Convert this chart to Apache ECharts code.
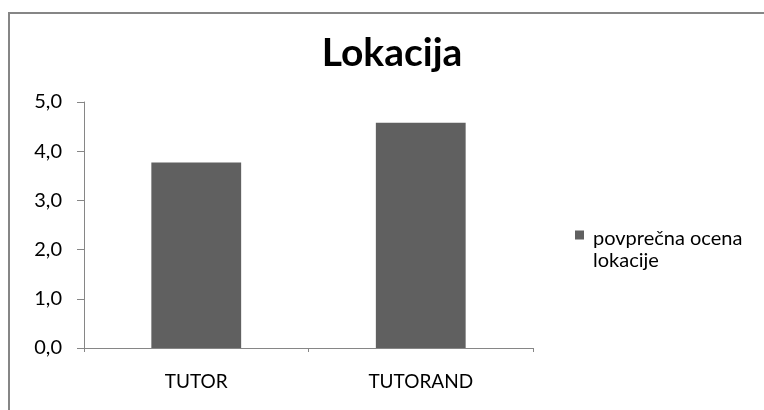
<!DOCTYPE html>
<html>
<head>
<meta charset="utf-8">
<script src="https://cdn.jsdelivr.net/npm/echarts@6/dist/echarts.min.js"></script>
<style>html,body{margin:0;padding:0;background:#fff;}#c{width:764px;height:410px;}</style>
</head>
<body>
<div id="c"></div>
<script>
const titleText = 'Lokacija';
const categories = ['TUTOR', 'TUTORAND'];
const seriesName = 'povprečna ocena lokacije';
const values = [3.77, 4.58];
const yTicks = [0, 1, 2, 3, 4, 5];

const FONT = 'Lato';
const chart = echarts.init(document.getElementById('c'));
chart.setOption({
  animation: false,
  backgroundColor: '#ffffff',
  title: {
    text: titleText,
    left: 387, textAlign: 'center',
    top: 29,
    textStyle: { fontFamily: FONT, fontWeight: 'bold', fontSize: 39, color: '#000' }
  },
  graphic: [{
    type: 'rect', silent: true,
    shape: { x: 9, y: 13, width: 800, height: 450 },
    style: { fill: null, stroke: '#868686', lineWidth: 2 }
  }],
  legend: {
    left: 570, top: 223,
    orient: 'vertical',
    icon: 'path://M0,0h9v9h-9zM12.99,38.99h0.01v0.01h-0.01z',
    itemWidth: 13, itemHeight: 39,
    data: [seriesName],
    formatter: () => 'povprečna ocena\nlokacije',
    textStyle: { fontFamily: FONT, fontSize: 20, color: '#000', lineHeight: 22 }
  },
  grid: { left: 84, right: 231, top: 102, bottom: 62 },
  xAxis: {
    type: 'category', data: categories,
    axisLine: { lineStyle: { color: '#868686', width: 1 } },
    axisTick: { show: true, length: 4, lineStyle: { color: '#868686' } },
    axisLabel: { margin: 24, fontFamily: FONT, fontSize: 19, color: '#000' }
  },
  yAxis: {
    type: 'value', min: yTicks[0], max: yTicks[yTicks.length - 1], interval: 1,
    axisLine: { show: true, lineStyle: { color: '#868686', width: 1 } },
    axisTick: { show: true, length: 7, lineStyle: { color: '#868686' } },
    splitLine: { show: false },
    axisLabel: { margin: 22, fontFamily: FONT, fontSize: 20, color: '#000',
      formatter: v => v.toFixed(1).replace('.', ',') }
  },
  series: [{
    name: seriesName, type: 'bar', data: values,
    barWidth: '40%',
    itemStyle: { color: '#606060' }
  }]
});
</script>
</body>
</html>
